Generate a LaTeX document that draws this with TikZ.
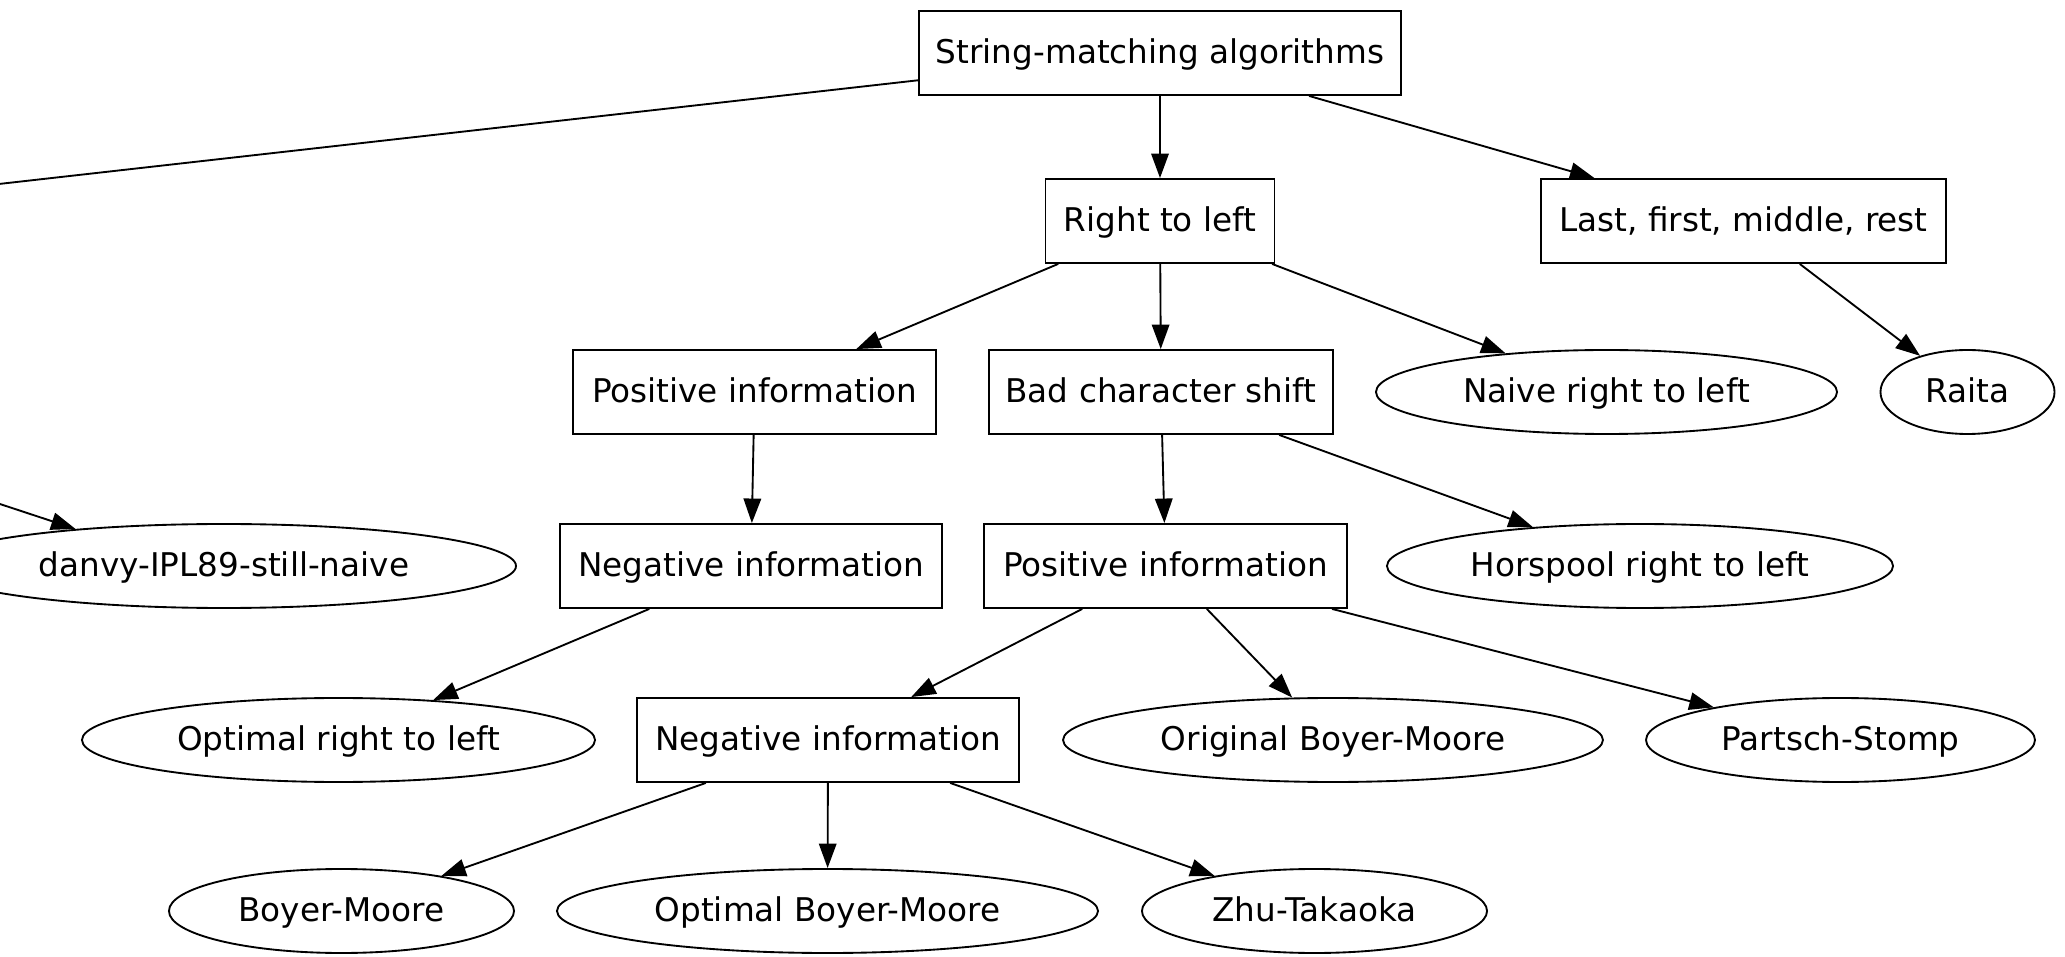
\documentclass[tikz,border=0pt]{standalone}
\usepackage{fontspec}
\setmainfont{DejaVu Sans}
\usetikzlibrary{shapes.geometric,arrows.meta}
\begin{document}
\begin{tikzpicture}[x=0.42857pt,y=-0.42857pt,
  lbl/.style={font=\fontsize{14}{16}\selectfont, line width=0.8pt, inner sep=0pt, minimum height=36pt, text height=11pt, text depth=2pt},
  box/.style={lbl, draw, rectangle, minimum width=#1},
  oval/.style={lbl, draw, ellipse, minimum width=#1},
  conn/.style={-{Triangle[length=10.5pt,width=7.5pt]}, line width=0.8pt}]
\fill[white] (0,0) rectangle (2065,957);
\useasboundingbox (0,0) rectangle (2065,957);
\clip (0,0) rectangle (2065,957);

\node[box=206.6pt] (root) at (1160,53) {String-matching algorithms};
\node[box=98.1pt] (rtl) at (1160,221) {Right to left};
\node[box=173.6pt] (lfmr) at (1743.5,221) {Last, first, middle, rest};
\node[box=155.6pt] (pos1) at (754.5,392) {Positive information};
\node[box=147.4pt] (bcs) at (1161,392) {Bad character shift};
\node[oval=197.6pt] (naive) at (1606.5,392) {Naive right to left};
\node[oval=74.6pt] (raita) at (1967.5,392) {Raita};
\node[oval=250.3pt] (danvy) at (224,566) {danvy-IPL89-still-naive};
\node[box=163.7pt] (neg1) at (751,566) {Negative information};
\node[box=155.6pt] (pos2) at (1165.5,566) {Positive information};
\node[oval=216.9pt] (horspool) at (1640,566) {Horspool right to left};
\node[oval=219.9pt] (ortl) at (338.5,740) {Optimal right to left};
\node[box=163.7pt] (neg2) at (828,740) {Negative information};
\node[oval=231.4pt] (obm) at (1333,740) {Original Boyer-Moore};
\node[oval=166.7pt] (ps) at (1840.5,740) {Partsch-Stomp};
\node[oval=147.9pt] (bm) at (341.5,911) {Boyer-Moore};
\node[oval=231.9pt] (optbm) at (827.5,911) {Optimal Boyer-Moore};
\node[oval=147.9pt] (zt) at (1314.5,911) {Zhu-Takaoka};

\coordinate (offl) at (-400,229);
\coordinate (dsrc) at (-200,438);

\draw[conn] (root) -- (offl);
\draw[conn] (dsrc) -- (danvy.166);
\draw[conn] (root) -- (rtl);
\draw[conn] (root) -- (lfmr);
\draw[conn] (rtl) -- (pos1);
\draw[conn] (rtl) -- (bcs);
\draw[conn] (rtl) -- (naive);
\draw[conn] (lfmr) -- (raita);
\draw[conn] (pos1) -- (neg1);
\draw[conn] (bcs) -- (pos2);
\draw[conn] (bcs) -- (horspool);
\draw[conn] (neg1) -- (ortl);
\draw[conn] (pos2) -- (neg2);
\draw[conn] (pos2) -- (obm);
\draw[conn] (pos2) -- (ps);
\draw[conn] (neg2) -- (bm);
\draw[conn] (neg2) -- (optbm);
\draw[conn] (neg2) -- (zt);
\end{tikzpicture}
\end{document}
